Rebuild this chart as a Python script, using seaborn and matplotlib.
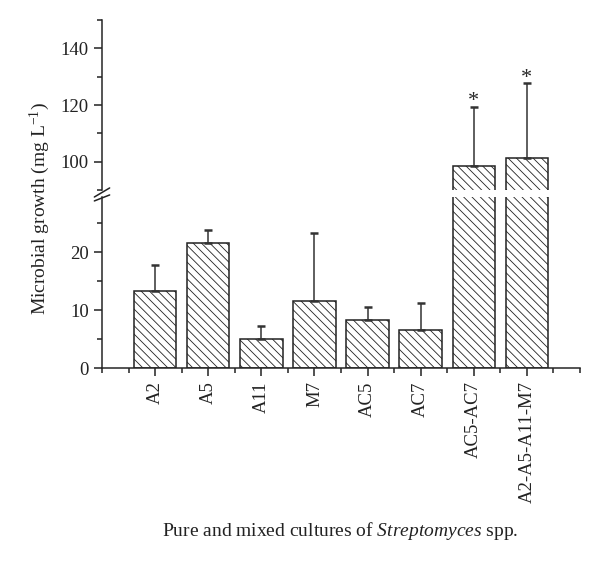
import numpy as np
import pandas as pd
import seaborn as sns
import matplotlib.pyplot as plt
from matplotlib.ticker import MultipleLocator

# Data
strains = ["A2", "A5", "A11", "M7", "AC5", "AC7", "AC5-AC7", "A2-A5-A11-M7"]
growth = [13.2, 21.5, 5.0, 11.5, 8.3, 6.6, 98.4, 101.4]
err_up = [4.6, 2.3, 2.3, 11.8, 2.2, 4.7, 21.0, 26.2]
significant = [False, False, False, False, False, False, True, True]

df = pd.DataFrame({"Strain": strains, "Growth": growth})

sns.set_style("ticks")
plt.rcParams["font.family"] = ["Liberation Serif", "DejaVu Serif"]
plt.rcParams["mathtext.fontset"] = "custom"
plt.rcParams["mathtext.rm"] = "Liberation Serif"
plt.rcParams["mathtext.it"] = "Liberation Serif:italic"
plt.rcParams["hatch.linewidth"] = 0.6

fig = plt.figure(figsize=(6, 5.64), dpi=100)
ax_top = fig.add_axes([0.17, 0.6631, 0.7967, 0.3014])
ax_bot = fig.add_axes([0.17, 0.3475, 0.7967, 0.3032])

x = np.arange(len(strains))
for ax in (ax_top, ax_bot):
    sns.barplot(data=df, x="Strain", y="Growth", ax=ax, color="white",
                edgecolor="#222222", linewidth=1.1, width=0.8, errorbar=None)
    for p in ax.patches:
        p.set_hatch("\\\\\\\\")
    ax.errorbar(x, growth, yerr=[np.zeros(len(growth)), err_up], fmt="none",
                ecolor="#333333", elinewidth=1.1, capsize=2.6, capthick=1.8)
    for s in ("top", "right"):
        ax.spines[s].set_visible(False)
    ax.spines["left"].set_linewidth(1.1)
    ax.spines["bottom"].set_linewidth(1.1)
    ax.set_xlabel("")
    ax.set_ylabel("")
    ax.tick_params(axis="both", which="both", direction="out", width=1.1,
                   labelsize=13.5, colors="#222222")
    ax.tick_params(axis="both", which="major", length=6)
    ax.tick_params(axis="both", which="minor", length=3.5)

ax_bot.set_ylim(0, 29.5)
ax_bot.yaxis.set_major_locator(MultipleLocator(10))
ax_bot.yaxis.set_minor_locator(MultipleLocator(5))
ax_bot.set_xticks(x)
ax_bot.set_xticklabels(strains, rotation=90)
ax_bot.set_xticks([-1] + list(np.arange(-0.5, 8, 1)) + [8], minor=True)

ax_top.set_ylim(90, 150)
ax_top.yaxis.set_major_locator(MultipleLocator(20))
ax_top.yaxis.set_minor_locator(MultipleLocator(10))
ax_top.set_yticks([100, 120, 140])
ax_top.spines["bottom"].set_visible(False)
ax_top.tick_params(axis="x", which="both", bottom=False, labelbottom=False)

for ax in (ax_top, ax_bot):
    ax.set_xlim(-1, 8)

# significance marks
for i, (g, e, sig) in enumerate(zip(growth, err_up, significant)):
    if sig:
        ax_top.text(i, g + e - 1.6, "*", ha="center", va="bottom", fontsize=16)

# axis break marks
kw = dict(color="#222222", lw=1.1, clip_on=False, transform=ax_bot.transAxes)
ax_bot.plot([-0.016, 0.016], [0.977, 1.012], **kw)
ax_bot.plot([-0.016, 0.016], [1.0, 1.053], **kw)

fig.text(0.067, 0.631, "Microbial growth (mg L$^{-1}$)", rotation=90,
         ha="center", va="center", fontsize=14, color="#222222")
fig.text(0.567, 0.0585, "Pure and mixed cultures of $\\it{Streptomyces}$ spp.",
         ha="center", va="center", fontsize=14, color="#222222")

fig.savefig("out.png", dpi=100)
